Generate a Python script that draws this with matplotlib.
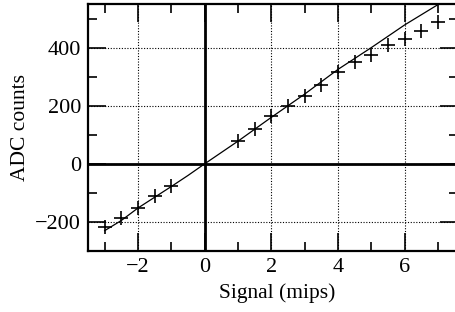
import matplotlib
matplotlib.use("Agg")
import matplotlib.pyplot as plt
from matplotlib.ticker import MultipleLocator

plt.rcParams['font.family'] = ['Liberation Serif', 'DejaVu Serif']

# measured points (+ markers)
sig_pts = [-3, -2.5, -2, -1.5, -1, 1, 1.5, 2, 2.5, 3, 3.5, 4, 4.5, 5, 5.5, 6, 6.5, 7]
adc_pts = [-217, -186, -151, -111, -75, 80, 120, 163, 198, 234, 271, 317, 352, 374, 409, 429, 457, 489]

# fitted curve
sig_fit = [-3, -2.5, -2, -1.5, -1, -0.5, 0, 1, 2, 3, 4, 5, 6, 7]
adc_fit = [-230, -195, -152, -115, -78, -40, 0, 78, 160, 240, 325, 400, 478, 548]

fig = plt.figure(figsize=(4.55, 3.12), dpi=100)
ax = fig.add_axes([88 / 455, 1 - 251 / 312, (458 - 88) / 455, (251 - 4) / 312])

ax.plot(sig_fit, adc_fit, color='black', lw=0.9)
ax.plot(sig_pts, adc_pts, ls='none', marker='+', ms=10, mew=1.2, color='black')

ax.axhline(0, color='black', lw=2.0)
ax.axvline(0, color='black', lw=2.0)

ax.set_xlim(-3.5, 7.6)
ax.set_ylim(-300, 550)
ax.xaxis.set_major_locator(MultipleLocator(2))
ax.xaxis.set_minor_locator(MultipleLocator(1))
ax.yaxis.set_major_locator(MultipleLocator(200))
ax.yaxis.set_minor_locator(MultipleLocator(100))

ax.grid(True, which='major', ls=(0, (1, 1.5)), color='black', lw=0.8)
ax.tick_params(which='both', direction='in', top=True, right=True,
               width=1.2, labelsize=16, colors='black')
ax.tick_params(which='major', length=13, pad=5)
ax.tick_params(which='minor', length=6.5)
for s in ax.spines.values():
    s.set_linewidth(1.6)

ax.set_xlabel('Signal (mips)', fontsize=15.5, labelpad=7)
ax.xaxis.set_label_coords(0.51, -0.13)
ax.set_ylabel('ADC counts', fontsize=15.5, labelpad=4)

fig.savefig('out.png', dpi=100)
